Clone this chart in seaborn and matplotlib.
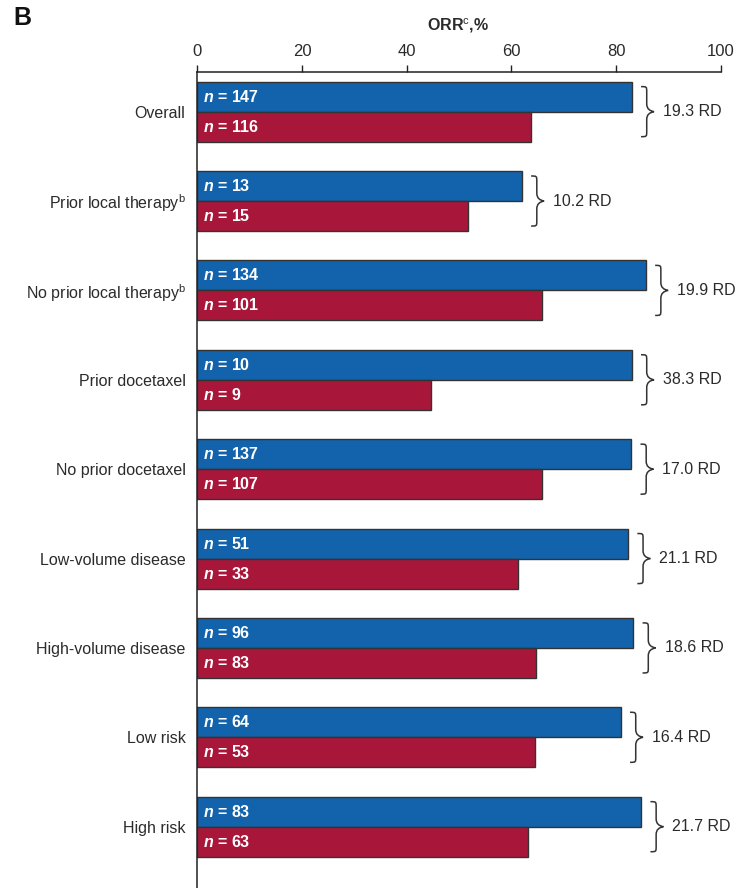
import matplotlib
matplotlib.use("Agg")
import matplotlib.pyplot as plt
from matplotlib.path import Path
from matplotlib.patches import PathPatch
import seaborn as sns
import pandas as pd

# Subgroups, objective response rates (%) per arm, patient counts and risk differences
subgroups = [
    "Overall",
    "Prior local therapy$^{\\mathrm{b}}$",
    "No prior local therapy$^{\\mathrm{b}}$",
    "Prior docetaxel",
    "No prior docetaxel",
    "Low-volume disease",
    "High-volume disease",
    "Low risk",
    "High risk",
]
orr_arm1 = [83.0, 62.0, 85.7, 83.0, 82.9, 82.3, 83.3, 80.9, 84.8]
orr_arm2 = [63.7, 51.8, 65.8, 44.7, 65.9, 61.2, 64.7, 64.5, 63.1]
n_arm1 = [147, 13, 134, 10, 137, 51, 96, 64, 83]
n_arm2 = [116, 15, 101, 9, 107, 33, 83, 53, 63]
risk_diff = ["19.3", "10.2", "19.9", "38.3", "17.0", "21.1", "18.6", "16.4", "21.7"]
xticks = [0, 20, 40, 60, 80, 100]

BLUE = "#1263AB"
RED = "#A8163A"
TEXT = "#2b2b2b"

sns.set_theme(style="white")
plt.rcParams["font.family"] = ["Liberation Sans", "DejaVu Sans"]
plt.rcParams["mathtext.fontset"] = "custom"
plt.rcParams["mathtext.rm"] = "Liberation Sans"
plt.rcParams["mathtext.bf"] = "Liberation Sans:bold"
plt.rcParams["mathtext.it"] = "Liberation Sans:italic:bold"

df = pd.DataFrame({
    "subgroup": subgroups * 2,
    "orr": orr_arm1 + orr_arm2,
    "arm": ["arm1"] * len(subgroups) + ["arm2"] * len(subgroups),
})

W, H = 742, 888
fig = plt.figure(figsize=(W / 100, H / 100), dpi=100)
left_px, right_px, top_px = 197.3, 720.7, 71.7
ax = fig.add_axes([left_px / W, 0.0, (right_px - left_px) / W, 1 - top_px / H])

sns.barplot(
    data=df, y="subgroup", x="orr", hue="arm", orient="h",
    palette=[BLUE, RED], saturation=1, width=0.671, gap=0,
    edgecolor="#333333", linewidth=1.0, legend=False, ax=ax, errorbar=None,
)

ax.set_xlim(0, 100)
ax.set_ylim(8.686, -0.447)
ax.set_xlabel("")
ax.set_ylabel("")

# axis on top
ax.xaxis.tick_top()
ax.set_xticks(xticks)
ax.set_xticklabels([str(t) for t in xticks])
ax.tick_params(axis="x", top=True, bottom=False, direction="out", length=5,
               width=1.0, color="#222222", labelsize=12, labelcolor=TEXT, pad=4)
ax.tick_params(axis="y", left=False, length=0, labelsize=11.5, labelcolor=TEXT, pad=8.5)
for side in ("right", "bottom"):
    ax.spines[side].set_visible(False)
for side in ("top", "left"):
    ax.spines[side].set_visible(True)
    ax.spines[side].set_color("#222222")
    ax.spines[side].set_linewidth(1.1)

# n labels inside each bar
for container, counts in zip(ax.containers, [n_arm1, n_arm2]):
    for patch, n in zip(container.patches, counts):
        yc = patch.get_y() + patch.get_height() / 2
        ax.annotate(f"$\\mathit{{n}}$ = {n}", xy=(0, yc), xytext=(4, 0),
                    textcoords="offset points", ha="left", va="center",
                    color="white", fontsize=11.5, fontweight="bold")

# braces with risk differences
px = 1 / 5.234  # data units per pixel along x
half = 0.28
for i, (a, b, rd) in enumerate(zip(orr_arm1, orr_arm2, risk_diff)):
    x0 = max(a, b) + 9.3 * px
    xs = x0 + 5.7 * px
    xt = x0 + 13 * px
    top, mid, bot = i - half, i, i + half
    r = 0.06
    verts = [
        (x0, top),
        (xs, top), (xs, top), (xs, top + r),
        (xs, mid - 0.09),
        (xs, mid - 0.03), (xs + 3 * px, mid - 0.01), (xt, mid),
        (xs + 3 * px, mid + 0.01), (xs, mid + 0.03), (xs, mid + 0.09),
        (xs, bot - r),
        (xs, bot), (xs, bot), (x0, bot),
    ]
    codes = [Path.MOVETO,
             Path.CURVE4, Path.CURVE4, Path.CURVE4,
             Path.LINETO,
             Path.CURVE4, Path.CURVE4, Path.CURVE4,
             Path.CURVE4, Path.CURVE4, Path.CURVE4,
             Path.LINETO,
             Path.CURVE4, Path.CURVE4, Path.CURVE4]
    ax.add_patch(PathPatch(Path(verts, codes), facecolor="none",
                           edgecolor="#333333", lw=1.1, clip_on=False))
    ax.text(x0 + 22 * px, mid, f"{rd} RD", ha="left", va="center",
            fontsize=11.5, color=TEXT, clip_on=False)

fig.text(458 / W, 1 - 26 / H, "ORR$^{\\mathrm{c}}$,%", ha="center", va="center",
         fontsize=11.5, fontweight="bold", color=TEXT)
fig.text(13 / W, 1 - 18 / H, "B", ha="left", va="center",
         fontsize=18, fontweight="bold", color="#111111")

fig.savefig("out.png", dpi=100)
